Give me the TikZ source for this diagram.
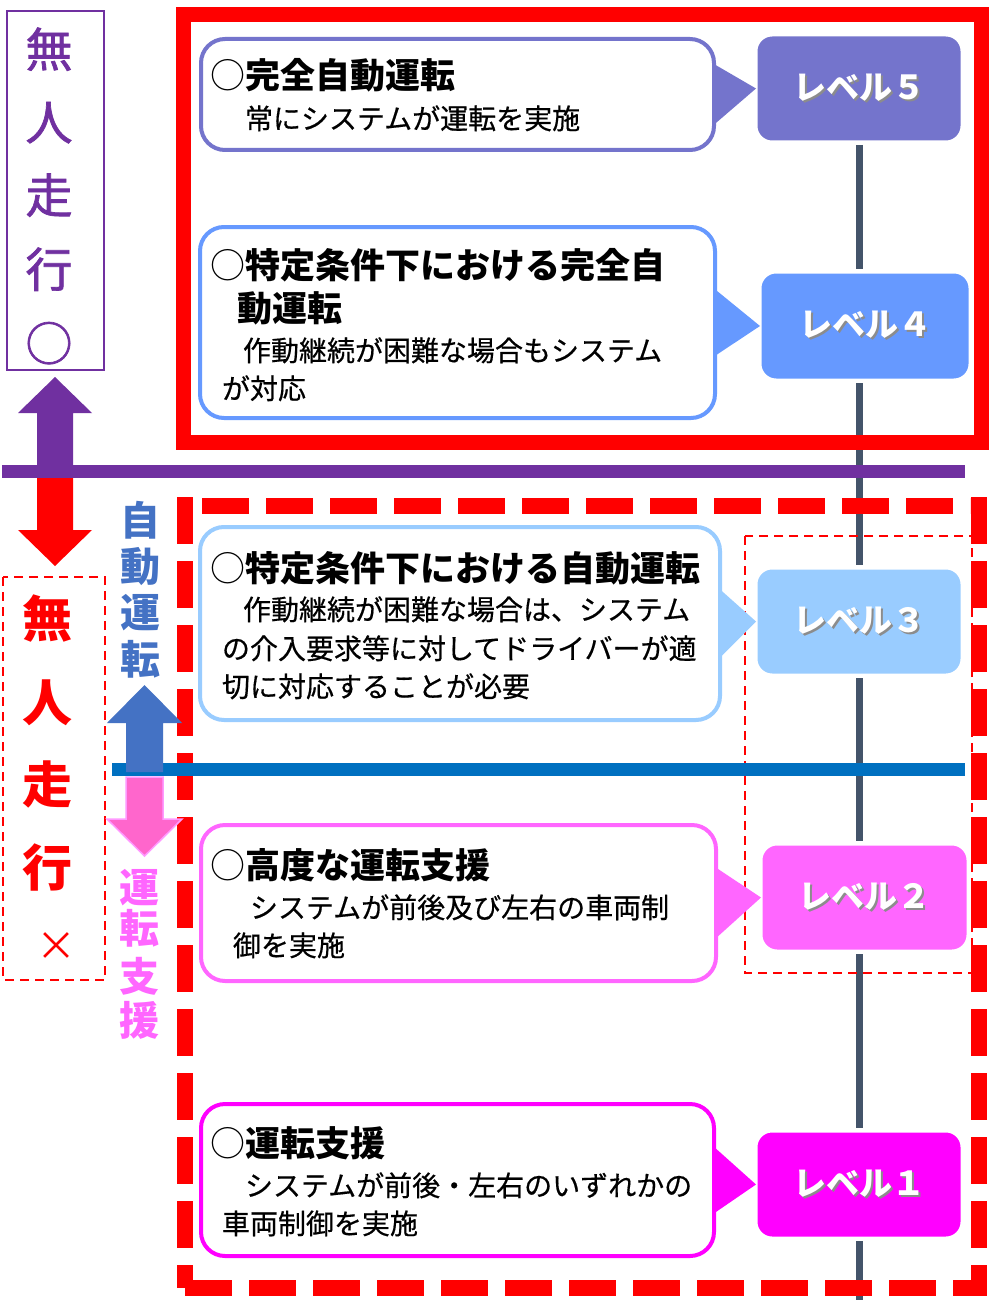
\documentclass[tikz,border=0pt]{standalone}
\usepackage{fontspec}
\setmainfont{Noto Sans CJK JP}
\newfontfamily\jpmed{Noto Sans CJK JP}[FakeBold=1.5]
\newfontfamily\jpdesc{Noto Sans CJK JP}[FakeBold=0.5]
\definecolor{c5}{HTML}{7474CC}
\definecolor{c4}{HTML}{6699FF}
\definecolor{c3}{HTML}{99CCFF}
\definecolor{c2}{HTML}{FF66FF}
\definecolor{c1}{HTML}{FF00FF}
\definecolor{pur}{HTML}{7030A0}
\definecolor{blu}{HTML}{4472C4}
\definecolor{bline}{HTML}{0070C0}
\definecolor{pnk}{HTML}{FF66CC}
\definecolor{pnkedge}{HTML}{FF99FF}
\definecolor{pnktxt}{HTML}{FF66FF}
\definecolor{spinegray}{HTML}{44546A}
\newcommand\lvtext[1]{\makebox[0pt][l]{\hspace{2pt}\raisebox{-2pt}{\textcolor{black!45}{#1}}}#1}
\begin{document}
\begin{tikzpicture}[x=1pt,y=-1pt,
  every node/.style={inner sep=0pt, outer sep=0pt},
  dbox/.style={draw=#1, line width=4pt, rounded corners=24pt, fill=white},
  lbox/.style={fill=#1, draw=white, line width=3pt, rounded corners=16pt, text=white,
    minimum width=206pt, minimum height=107pt, font=\fontsize{33}{40}\selectfont\bfseries},
  ttl/.style={anchor=base west, font=\fontsize{35}{42}\selectfont\bfseries, text=black},
  dsc/.style={anchor=base west, font=\jpdesc\fontsize{28}{34}\selectfont, text=black},
  spine/.style={draw=spinegray, line width=7pt},
  frame/.style={draw=red, line width=16pt, dash pattern=on 47pt off 17pt},
  pch/.style={anchor=base, text=pur, font=\jpmed\fontsize{47}{56}\selectfont},
  rch/.style={anchor=base, text=red, font=\fontsize{50}{60}\selectfont\bfseries},
  bch/.style={anchor=base, text=blu, font=\fontsize{40}{48}\selectfont\bfseries},
  kch/.style={anchor=base, text=pnktxt, font=\fontsize{40}{48}\selectfont\bfseries}
]
\useasboundingbox (0,0) rectangle (988,1300);
\fill[white] (0,0) rectangle (988,1300);

% level boxes
\node[lbox=c5] (l5) at (859,88.5) {\lvtext{レベル５}};
\node[lbox=c4, minimum width=210pt, minimum height=108pt] (l4) at (865,326) {\lvtext{レベル４}};
\node[lbox=c3] (l3) at (859,621.5) {\lvtext{レベル３}};
\node[lbox=c2, minimum width=207pt] (l2) at (864.5,897.5) {\lvtext{レベル２}};
\node[lbox=c1] (l1) at (859,1184.5) {\lvtext{レベル１}};
\coordinate (bot) at (859,1300);

% spine
\draw[spine] ([yshift=-3pt]l5.south) -- ([yshift=3pt]l5.south |- l4.north);
\draw[spine] ([yshift=-3pt]l5.south |- l4.south) -- ([yshift=3pt]l3.north);
\draw[spine] ([yshift=-3pt]l3.south) -- ([yshift=3pt]l3.south |- l2.north);
\draw[spine] ([yshift=-3pt]l3.south |- l2.south) -- ([yshift=3pt]l1.north);
\draw[spine] ([yshift=-3pt]l1.south) -- (bot);

% frames
\draw[red, line width=15pt] (183,15) rectangle (981,442);
\draw[frame, dash phase=55pt] (193,505.5) -- (970,505.5);
\draw[frame] (978.5,497) -- (978.5,1295);
\draw[frame] (185,1287.5) -- (987,1287.5);
\draw[frame] (184.5,497) -- (184.5,1288);
\draw[red, line width=2.5pt, dash pattern=on 9pt off 6pt] (745,536) rectangle (972,973);
\draw[red, line width=2.5pt, dash pattern=on 9pt off 6pt] (3,577) rectangle (105,980);
\draw[pur, line width=2.5pt] (7,11) rectangle (104,370);

% horizontal divider lines
\draw[pur, line width=13pt] (2,471) -- (965,471);
\draw[bline, line width=13pt] (112,769.5) -- (965,769.5);

% description boxes
\node[dbox=c5, minimum width=513pt, minimum height=111pt] (d5) at (457.5,94.5) {};
\node[dbox=c4, minimum width=515pt, minimum height=191pt] (d4) at (457.5,322.5) {};
\node[dbox=c3, minimum width=520pt, minimum height=193pt] (d3) at (460,623.5) {};
\node[dbox=c2, minimum width=515pt, minimum height=156pt] (d2) at (458.5,903) {};
\node[dbox=c1, minimum width=513pt, minimum height=152pt] (d1) at (457.5,1180) {};

% pointers
\fill[c5] ([xshift=-1pt,yshift=31pt]d5.east) -- (l5.west) -- ([xshift=-1pt,yshift=-31pt]d5.east) -- cycle;
\fill[c4] ([xshift=-1pt,yshift=34pt]d4.east) -- (l4.west) -- ([xshift=-1pt,yshift=-34pt]d4.east) -- cycle;
\fill[c3] ([xshift=-1pt,yshift=35pt]d3.east) -- (l3.west) -- ([xshift=-1pt,yshift=-35pt]d3.east) -- cycle;
\fill[c2] ([xshift=-1pt,yshift=36pt]d2.east) -- (l2.west) -- ([xshift=-1pt,yshift=-36pt]d2.east) -- cycle;
\fill[c1] ([xshift=-1pt,yshift=34pt]d1.east) -- (l1.west) -- ([xshift=-1pt,yshift=-34pt]d1.east) -- cycle;

% texts
\node[ttl] (t5a) at (210,89) {{\mdseries ○}完全自動運転};
\node[dsc] (t5b) at (245,129) {常にシステムが運転を実施};

\node[ttl] (t4a) at (210,278) {{\mdseries ○}特定条件下における完全自};
\node[ttl] (t4b) at (237,321) {動運転};
\node[dsc] (t4c) at (243,361) {作動継続が困難な場合もシステム};
\node[dsc] (t4d) at (222,399) {が対応};

\node[ttl] (t3a) at (210,581) {{\mdseries ○}特定条件下における自動運転};
\node[dsc] (t3b) at (243,620) {作動継続が困難な場合は、システム};
\node[dsc] (t3c) at (222,659) {の介入要求等に対してドライバーが適};
\node[dsc] (t3d) at (222,697) {切に対応することが必要};

\node[ttl] (t2a) at (210,878) {{\mdseries ○}高度な運転支援};
\node[dsc] (t2b) at (250,918) {システムが前後及び左右の車両制};
\node[dsc] (t2c) at (233,956) {御を実施};

\node[ttl] (t1a) at (210,1156) {{\mdseries ○}運転支援};
\node[dsc] (t1b) at (245,1196) {システムが前後・左右のいずれかの};
\node[dsc] (t1c) at (222,1234) {車両制御を実施};

% arrows
\fill[pur] (37,471) -- (37,413) -- (18,413) -- (55,377) -- (92,413) -- (73,413) -- (73,471) -- cycle;
\fill[red] (37,478) -- (37,530) -- (18,530) -- (55,566) -- (92,530) -- (73,530) -- (73,478) -- cycle;
\fill[blu] (126,772) -- (126,723) -- (107,723) -- (144.5,685) -- (182,723) -- (163,723) -- (163,772) -- cycle;
\filldraw[fill=pnk, draw=pnkedge, line width=1.5pt] (126,777) -- (126,819) -- (107,819) -- (144.5,856) -- (182,819) -- (163,819) -- (163,777) -- cycle;

% vertical labels
\node[pch] (p1) at (49,67) {無};
\node[pch] (p2) at (49,140) {人};
\node[pch] (p3) at (49,213) {走};
\node[pch] (p4) at (49,287) {行};
\node[pch] (p5) at (49,361) {○};

\node[rch] (r1) at (47,637) {無};
\node[rch] (r2) at (47,721) {人};
\node[rch] (r3) at (47,803) {走};
\node[rch] (r4) at (47,886) {行};
\node[anchor=base, text=red, font=\fontsize{40}{48}\selectfont] (r5) at (56,960) {×};

\node[bch] (b1) at (140,535) {自};
\node[bch] (b2) at (140,581) {動};
\node[bch] (b3) at (140,627) {運};
\node[bch] (b4) at (140,674) {転};

\node[kch] (k1) at (139,902) {運};
\node[kch] (k2) at (139,943) {転};
\node[kch] (k3) at (139,991) {支};
\node[kch] (k4) at (139,1035) {援};
\end{tikzpicture}
\end{document}
